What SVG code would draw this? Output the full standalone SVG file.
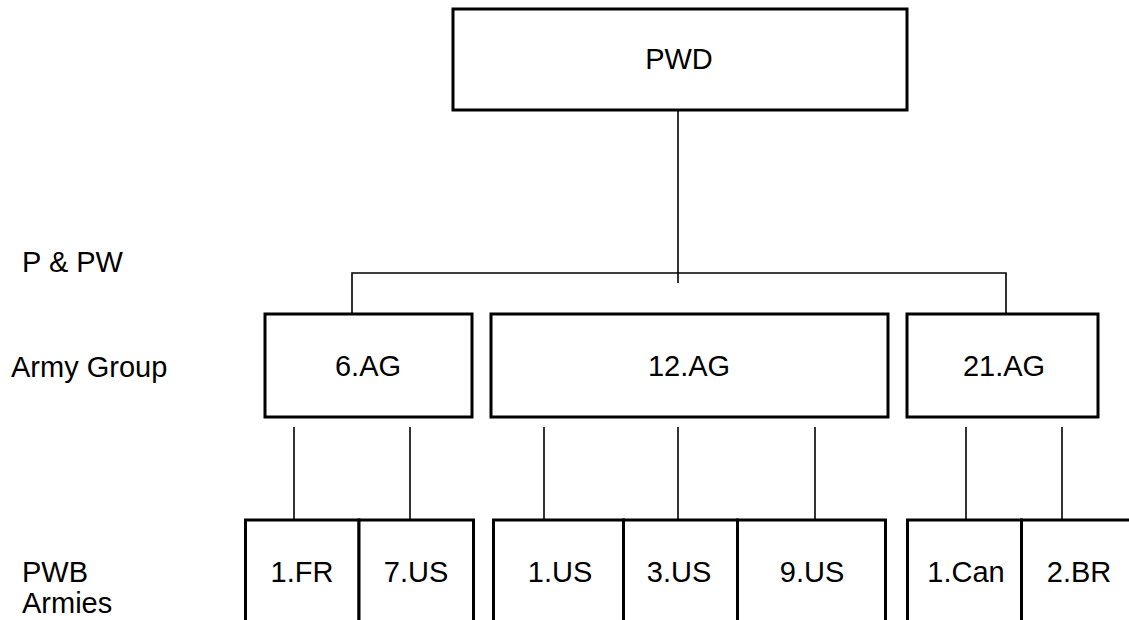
<svg xmlns="http://www.w3.org/2000/svg" width="1129" height="620" viewBox="0 0 1129 620">
<style>
.box{fill:#fff;stroke:#000;stroke-width:3}
.ln{fill:none;stroke:#000;stroke-width:1.6}
text{font-family:"Liberation Sans",Arial,sans-serif;font-size:29px;fill:#000}
.c{text-anchor:middle}
</style>
<rect width="1129" height="620" fill="#fff"/>
<g id="connectors">
<polyline class="ln" points="678,110 678,283"/>
<polyline class="ln" points="352,314 352,273 1006,273 1006,314"/>
<line class="ln" x1="294" y1="427" x2="294" y2="524"/>
<line class="ln" x1="410" y1="427" x2="410" y2="524"/>
<line class="ln" x1="544" y1="427" x2="544" y2="524"/>
<line class="ln" x1="678" y1="427" x2="678" y2="524"/>
<line class="ln" x1="815" y1="427" x2="815" y2="524"/>
<line class="ln" x1="966" y1="427" x2="966" y2="524"/>
<line class="ln" x1="1062" y1="427" x2="1062" y2="524"/>
</g>
<g id="labels">
<text x="22" y="272">P &amp; PW</text>
<text x="11" y="377">Army Group</text>
<text x="22" y="582">PWB</text>
<text x="22" y="613">Armies</text>
</g>
<g id="pwd"><rect class="box" x="453" y="9" width="454" height="101"/><text class="c" x="679" y="69">PWD</text></g>
<g id="ag6"><rect class="box" x="265" y="314" width="207" height="103"/><text class="c" x="368" y="376">6.AG</text></g>
<g id="ag12"><rect class="box" x="491" y="314" width="397" height="103"/><text class="c" x="689" y="376">12.AG</text></g>
<g id="ag21"><rect class="box" x="907" y="314" width="191" height="103"/><text class="c" x="1004" y="376">21.AG</text></g>
<g id="fr1"><path class="box" d="M245.5,625 V520 H359 V625" /><text class="c" x="302" y="582">1.FR</text></g>
<g id="us7"><path class="box" d="M359,625 V520 H473.5 V625" /><text class="c" x="416" y="582">7.US</text></g>
<g id="us1"><path class="box" d="M493.5,625 V520 H623.5 V625" /><text class="c" x="560" y="582">1.US</text></g>
<g id="us3"><path class="box" d="M623.5,625 V520 H737.5 V625" /><text class="c" x="679" y="582">3.US</text></g>
<g id="us9"><path class="box" d="M737.5,625 V520 H885.5 V625" /><text class="c" x="812" y="582">9.US</text></g>
<g id="can1"><path class="box" d="M907.5,625 V520 H1021.5 V625" /><text class="c" x="966" y="582">1.Can</text></g>
<g id="br2"><path class="box" d="M1021.5,625 V520 H1135" /><text class="c" x="1079" y="582">2.BR</text></g>
</svg>
